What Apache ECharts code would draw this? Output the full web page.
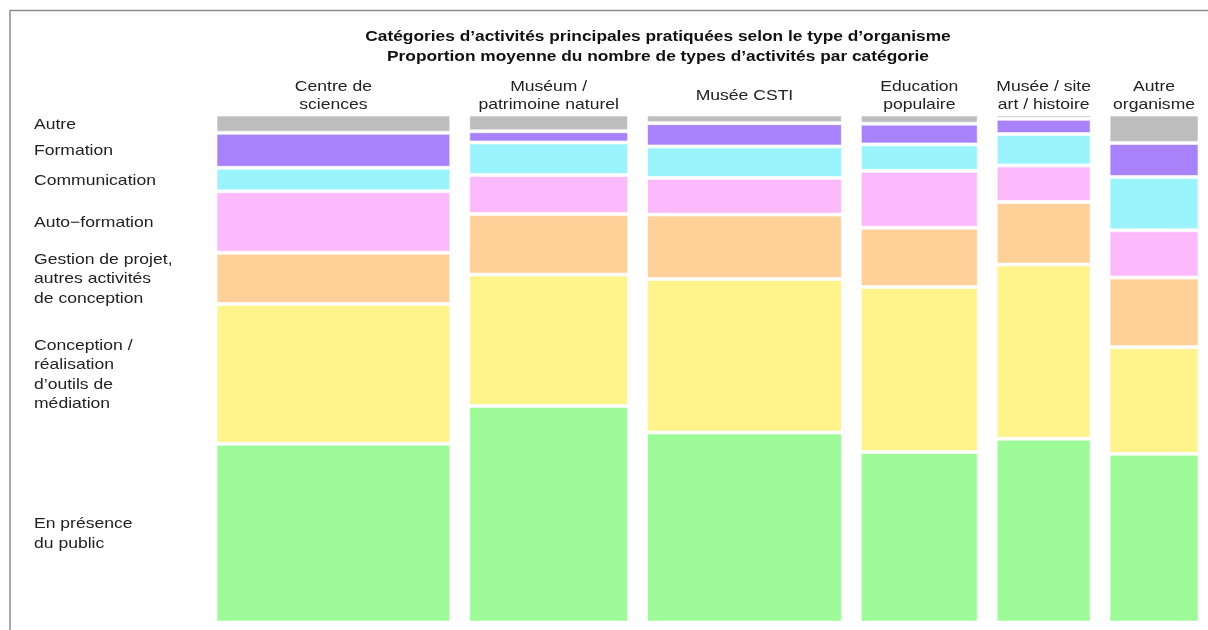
<!DOCTYPE html>
<html>
<head>
<meta charset="utf-8">
<script src="https://cdn.jsdelivr.net/npm/echarts@6/dist/echarts.min.js"></script>
<style>
  html, body { margin: 0; padding: 0; background: #fff; }
  #main { width: 1208px; height: 630px; }
</style>
</head>
<body>
<div id="main"></div>
<script>
// types d'organisme (colonnes) et poids relatif de chaque colonne
var organismes = ['Centre de\nsciences', 'Muséum /\npatrimoine naturel', 'Musée CSTI',
    'Education\npopulaire', 'Musée / site\nart / histoire', 'Autre\norganisme'];
var largeurs = [233, 158, 194, 116, 93, 88];

// catégories d'activités, du bas vers le haut
var categories = ['En présence\ndu public', 'Conception /\nréalisation\nd\u2019outils de\nmédiation',
    'Gestion de projet,\nautres activités\nde conception', 'Auto\u2212formation',
    'Communication', 'Formation', 'Autre'];
var couleurs = ['#9cfa97', '#fff38b', '#ffd199', '#fcb9fc', '#99f4fd', '#a882fd', '#bdbdbd'];

// proportions (%) par catégorie, une valeur par colonne
var presence     = [35.2, 42.6, 37.4, 33.6, 36.2, 33.2];
var conception   = [27.5, 25.9, 30.2, 32.5, 34.3, 21.0];
var gestion      = [10.1, 11.9, 12.7, 11.7, 12.3, 13.7];
var autoformation = [12.1, 7.7, 7.2, 11.2, 7.2, 9.3];
var communication = [4.6, 6.4, 6.2, 5.2, 6.2, 10.5];
var formation    = [6.9, 2.2, 4.6, 4.1, 3.0, 6.7];
var autre        = [3.6, 3.3, 1.7, 1.8, 0.85, 5.6];

var valeurs = [presence, conception, gestion, autoformation, communication, formation, autre];
var ecart = 20;

// position de départ de chaque colonne
var debuts = [];
var pos = 0;
for (var i = 0; i < largeurs.length; i++) {
    debuts.push(pos);
    pos += largeurs[i] + ecart;
}
var total = pos - ecart;

var data = [];
for (var c = 0; c < organismes.length; c++) {
    var row = [debuts[c], largeurs[c]];
    for (var k = 0; k < valeurs.length; k++) row.push(valeurs[k][c]);
    data.push(row);
}

// le texte d'origine est un Helvetica un peu étiré
var police = '"Liberation Sans", Arial, sans-serif';
var etirement = 1.17;

function texte(str, x, y, align, lh) {
    return {
        type: 'text', x: x, y: y, scaleX: etirement,
        style: {
            text: str, x: 0, y: 0, align: align, verticalAlign: 'middle',
            lineHeight: lh, font: '15px ' + police, fill: '#222'
        }
    };
}

function renderItem(params, api) {
    var c = params.dataIndex;
    var x0 = api.value(0);
    var w = api.value(1);
    var somme = 0;
    for (var k = 0; k < valeurs.length; k++) somme += api.value(2 + k);
    var children = [];
    var cumul = 0;
    for (var k = 0; k < valeurs.length; k++) {
        var v = api.value(2 + k) / somme * 100;
        var p1 = api.coord([x0, cumul]);
        var p2 = api.coord([x0 + w, cumul + v]);
        var hauteur = p1[1] - p2[1];
        children.push({
            type: 'rect',
            shape: { x: p1[0], y: p2[1] + 1.5, width: p2[0] - p1[0], height: Math.max(hauteur - 3, 0.5) },
            style: { fill: couleurs[k], stroke: 'rgba(255,255,255,0.6)', lineWidth: 1 }
        });
        if (c === 0) {
            children.push(texte(categories[k], 34, (p1[1] + p2[1]) / 2 + 1, 'left', 19.5));
        }
        cumul += v;
    }
    var haut = api.coord([x0, 100]);
    var droite = api.coord([x0 + w, 100]);
    children.push(texte(organismes[c], (haut[0] + droite[0]) / 2, haut[1] - 18.5, 'center', 17.5));
    return { type: 'group', children: children };
}

var chart = echarts.init(document.getElementById('main'));
chart.setOption({
    animation: false,
    backgroundColor: '#fff',
    graphic: [{
        type: 'polyline',
        shape: { points: [[10, 640], [10, 10.5], [1220, 10.5]] },
        style: { stroke: '#8a8a8a', lineWidth: 1.5, fill: null }
    }, {
        type: 'text', x: 658, y: 47, scaleX: 1.155,
        style: {
            text: 'Catégories d\u2019activités principales pratiquées selon le type d\u2019organisme\nProportion moyenne du nombre de types d\u2019activités par catégorie',
            x: 0, y: 0, align: 'center', verticalAlign: 'middle', lineHeight: 20,
            font: 'bold 15px ' + police, fill: '#111'
        }
    }],
    grid: { left: 217, right: 10, top: 114.5, bottom: 7.5 },
    xAxis: { type: 'value', min: 0, max: total, show: false },
    yAxis: { type: 'value', min: 0, max: 100, show: false },
    series: [{
        type: 'custom',
        renderItem: renderItem,
        encode: { x: [0], y: [2] },
        data: data
    }]
});
</script>
</body>
</html>
